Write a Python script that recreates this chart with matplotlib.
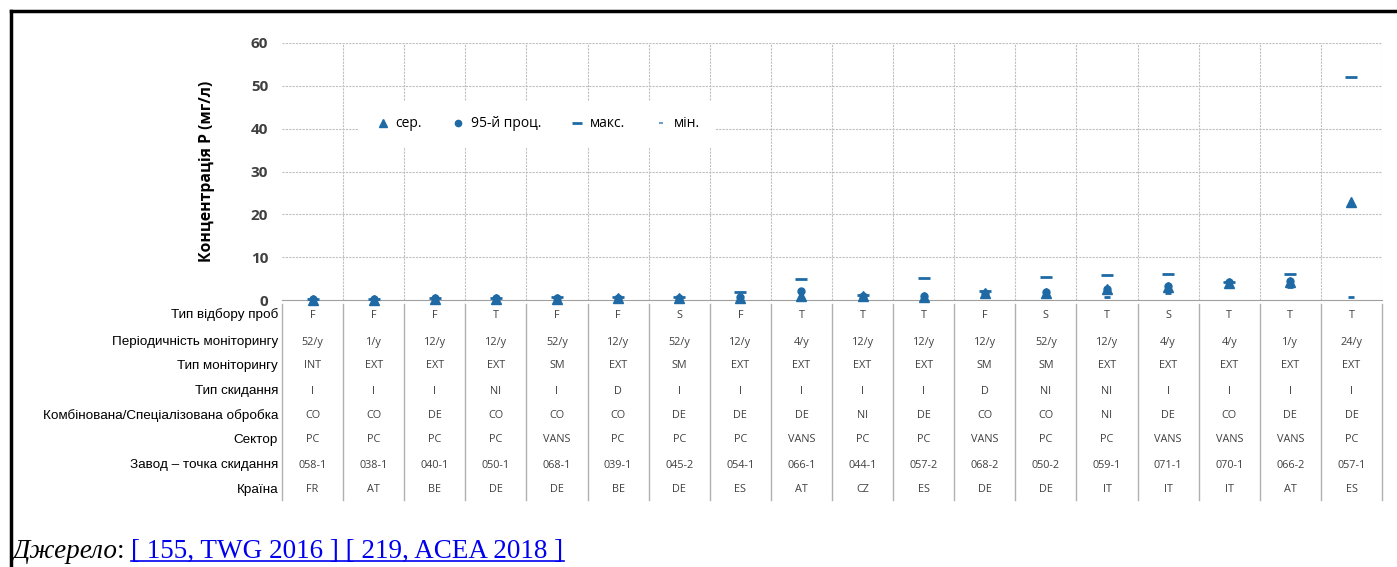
import matplotlib
matplotlib.use("Agg")
import matplotlib.pyplot as plt
import matplotlib.transforms as mtrans
from matplotlib.lines import Line2D
import numpy as np

# values (mg/l)
plants = ["058-1", "038-1", "040-1", "050-1", "068-1", "039-1", "045-2", "054-1", "066-1",
          "044-1", "057-2", "068-2", "050-2", "059-1", "071-1", "070-1", "066-2", "057-1"]
mean_vals = [0.1, 0.1, 0.3, 0.3, 0.3, 0.5, 0.4, 0.5, 0.9, 0.9, 0.8, 1.6, 1.7, 2.5, 3.0, 4.0, 4.2, 22.9]
p95_vals = [0.2, 0.2, 0.4, 0.4, 0.4, 0.5, 0.5, 0.6, 2.1, 1.0, 0.9, 1.7, 1.8, 2.6, 3.2, 4.1, 4.5, np.nan]
max_vals = [0.2, 0.2, 0.5, 0.5, 0.6, 0.6, 0.7, 1.9, 4.9, 1.1, 5.1, 2.0, 5.4, 5.8, 6.1, 4.3, 6.1, 52.1]
min_vals = [0.0, 0.0, 0.2, 0.2, 0.1, 0.4, 0.2, 0.2, 0.2, 0.7, 0.6, 1.2, 1.4, 0.7, 1.6, 3.6, 3.0, 0.7]

sampling = ["F", "F", "F", "T", "F", "F", "S", "F", "T", "T", "T", "F", "S", "T", "S", "T", "T", "T"]
frequency = ["52/y", "1/y", "12/y", "12/y", "52/y", "12/y", "52/y", "12/y", "4/y", "12/y", "12/y",
             "12/y", "52/y", "12/y", "4/y", "4/y", "1/y", "24/y"]
monitoring = ["INT", "EXT", "EXT", "EXT", "SM", "EXT", "SM", "EXT", "EXT", "EXT", "EXT",
              "SM", "SM", "EXT", "EXT", "EXT", "EXT", "EXT"]
discharge = ["I", "I", "I", "NI", "I", "D", "I", "I", "I", "I", "I", "D", "NI", "NI", "I", "I", "I", "I"]
treatment = ["CO", "CO", "DE", "CO", "CO", "CO", "DE", "DE", "DE", "NI", "DE", "CO", "CO", "NI",
             "DE", "CO", "DE", "DE"]
sector = ["PC", "PC", "PC", "PC", "VANS", "PC", "PC", "PC", "VANS", "PC", "PC", "VANS", "PC", "PC",
          "VANS", "VANS", "VANS", "PC"]
country = ["FR", "AT", "BE", "DE", "DE", "BE", "DE", "ES", "AT", "CZ", "ES", "DE", "DE", "IT",
           "IT", "IT", "AT", "ES"]

row_labels = ["Тип відбору проб", "Періодичність моніторингу", "Тип моніторингу", "Тип скидання",
              "Комбінована/Спеціалізована обробка", "Сектор", "Завод – точка скидання", "Країна"]
rows = [sampling, frequency, monitoring, discharge, treatment, sector, plants, country]

W, H = 1397, 567
fig = plt.figure(figsize=(W / 100, H / 100), dpi=100)
ax = fig.add_axes([282 / W, (H - 300) / H, 1100 / W, 257 / H])

blue = "#1f6aa5"
sans = ["Open Sans", "DejaVu Sans"]
x = np.arange(len(plants)) + 0.5

ax.plot(x, min_vals, ls="none", marker="_", ms=4, mew=2, color=blue, clip_on=False, zorder=3)
ax.plot(x, max_vals, ls="none", marker="_", ms=8, mew=2, color=blue, clip_on=False, zorder=3)
ax.plot(x, p95_vals, ls="none", marker="o", ms=5, color=blue, clip_on=False, zorder=4)
ax.plot(x, mean_vals, ls="none", marker="^", ms=6.5, color=blue, clip_on=False, zorder=5)

ax.set_xlim(0, len(plants))
ax.set_ylim(0, 60)
ax.set_yticks(range(0, 61, 10))
ax.set_xticks([])
for s in ["top", "right", "left"]:
    ax.spines[s].set_visible(False)
ax.spines["bottom"].set_color("#a0a0a0")
ax.tick_params(axis="y", length=0, pad=10, labelcolor="#404040")
for lab in ax.get_yticklabels():
    lab.set_fontweight("bold")
    lab.set_fontsize(11)
    lab.set_family(sans)

for yv in range(10, 61, 10):
    ax.axhline(yv, color="#c0c0c0", lw=0.8, ls=(0, (2, 1)), zorder=0)
for xv in range(1, len(plants) + 1):
    ax.axvline(xv, color="#c0c0c0", lw=0.8, ls=(0, (2, 1)), zorder=0)

ax.set_ylabel("Концентрація Р (мг/л)", fontsize=11.3, fontweight="bold", family=sans)
ax.yaxis.set_label_coords(-0.061, 0.5)

handles = [
    Line2D([], [], ls="none", marker="^", ms=6, color=blue),
    Line2D([], [], ls="none", marker="o", ms=4.5, color=blue),
    Line2D([], [], ls="none", marker="_", ms=7, mew=2, color=blue),
    Line2D([], [], ls="none", marker="_", ms=3, mew=1.5, color="#6aa0cc"),
]
leg = ax.legend(handles, ["сер.", "95-й проц.", "макс.", "мін."], ncol=4, loc="center",
                bbox_to_anchor=(0.232, 0.685), frameon=True, fancybox=False, framealpha=1,
                edgecolor="none", facecolor="white", handletextpad=0.3, columnspacing=2.0,
                borderpad=1.1, handlelength=1.2, prop={"family": sans, "size": 10})
leg.set_zorder(6)

# table under the plot
tr = mtrans.blended_transform_factory(ax.transData, fig.transFigure)
row_y = [315, 342, 366, 391, 416, 440, 465, 490]
for label, vals, yp in zip(row_labels, rows, row_y):
    yf = (H - yp) / H
    fig.text(278 / W, yf, label, ha="right", va="center", fontsize=9.7, family="Liberation Sans")
    for xi, v in zip(x, vals):
        ax.text(xi, yf, v, transform=tr, ha="center", va="center", fontsize=7.8,
                color="#404040", family=sans, clip_on=False)
for xv in range(0, len(plants) + 1):
    ax.plot([xv, xv], [(H - 304) / H, (H - 500) / H], transform=tr, color="#b0b0b0", lw=1,
            clip_on=False)

# frame
fig.add_artist(Line2D([11 / W, 1], [1 - 11 / H, 1 - 11 / H], color="black", lw=2.5,
                      transform=fig.transFigure))
fig.add_artist(Line2D([11 / W, 11 / W], [0, 1 - 11 / H], color="black", lw=2.5,
                      transform=fig.transFigure))

# source line
base = 9 / H
fs = 19.5
t1 = fig.text(12 / W, base, "Джерело", fontsize=fs, style="italic", family="Liberation Serif",
              va="baseline")
fig.canvas.draw()
r = fig.canvas.get_renderer()
bb = t1.get_window_extent(r)
t2 = fig.text(bb.x1 / W, base, ": ", fontsize=fs, family="Liberation Serif", va="baseline")
bb = t2.get_window_extent(r)
t3 = fig.text(bb.x1 / W, base, "[ 155, TWG 2016 ] [ 219, ACEA 2018 ]", fontsize=fs,
              family="Liberation Serif", color="#0000ee", va="baseline")
bb = t3.get_window_extent(r)
fig.add_artist(Line2D([bb.x0 / W, bb.x1 / W], [base - 3 / H, base - 3 / H], color="#0000ee",
                      lw=1.2, transform=fig.transFigure))

fig.savefig("out.png", dpi=100)
